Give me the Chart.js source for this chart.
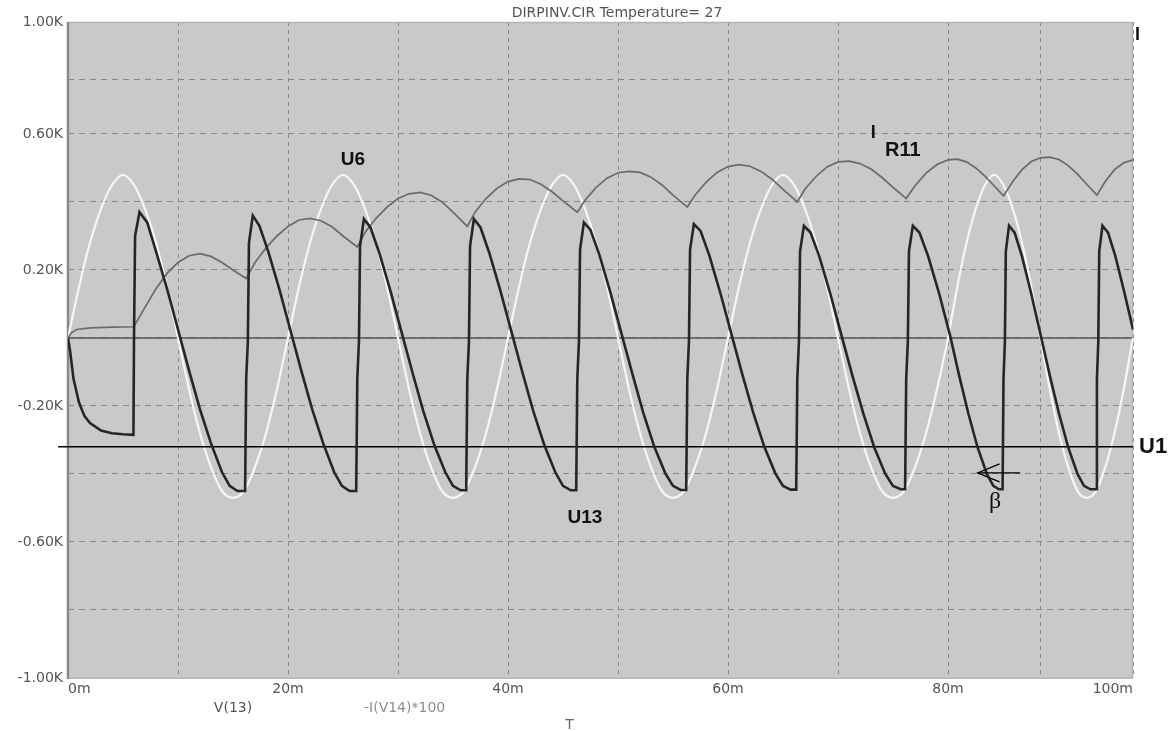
<!DOCTYPE html>
<html><head><meta charset="utf-8">
<script src="https://cdn.jsdelivr.net/npm/chart.js@4.4.1/dist/chart.umd.min.js"></script>
<style>html,body{margin:0;padding:0;background:#fff;}canvas{display:block;}</style>
</head><body>
<canvas id="c" width="1173" height="731"></canvas>
<script>
// ---------- data ----------
const chartTitle = 'DIRPINV.CIR Temperature= 27';
const xTickValues = [0, 20, 40, 60, 80, 100];
const xTickLabels = ['0m', '20m', '40m', '60m', '80m', '100m'];
const yTickValues = [1, 0.6, 0.2, -0.2, -0.6, -1];
const yTickLabels = ['1.00K', '0.60K', '0.20K', '-0.20K', '-0.60K', '-1.00K'];
const traceNames = ['V(13)', '-I(V14)*100'];
const xAxisName = 'T';

// V(13) supply sine (white), time in ms, value in K
const v13Time = [0,1,2,3,4,5,6,7,8,9,10,11,12,13,14,15,16,17,18,19,20,21,22,23,24,25,26,27,28,29,30,31,32,33,34,35,36,37,38,39,40,41,42,43,44,45,46,47,48,49,50,51,52,53,54,55,56,57,58,59,60,61,62,63,64,65,66,67,68,69,70,71,72,73,74,75,76,77,78,79,80,81,82,83,84,85,86,87,88,89,90,91,92,93,94,95,96,97,98,99,100];
const v13Value = [0,0.15,0.28,0.38,0.45,0.48,0.45,0.38,0.28,0.15,0,-0.15,-0.28,-0.38,-0.45,-0.47,-0.45,-0.38,-0.28,-0.15,
  0,0.15,0.28,0.38,0.45,0.48,0.45,0.38,0.28,0.15,0,-0.15,-0.28,-0.38,-0.45,-0.47,-0.45,-0.38,-0.28,-0.15,
  0,0.15,0.28,0.38,0.45,0.48,0.45,0.38,0.28,0.15,0,-0.15,-0.28,-0.38,-0.45,-0.47,-0.45,-0.38,-0.28,-0.15,
  0,0.15,0.28,0.38,0.45,0.48,0.45,0.38,0.28,0.15,0,-0.15,-0.28,-0.38,-0.45,-0.47,-0.45,-0.38,-0.28,-0.15,
  0,0.15,0.28,0.38,0.45,0.48,0.45,0.38,0.28,0.15,0,-0.15,-0.28,-0.38,-0.45,-0.47,-0.45,-0.38,-0.28,-0.15,0];

// I(R11) (medium grey)
const iR11Time = [0,0.3,0.8,2,4,5.95,6.1,7,8,9,10,11,12,13,14,15,16.2,17,18,19,20,21,22,23,24,25,26.3,27,28,29,30,31,32,33,34,35,36.3,37,38,39,40,41,42,43,44,45,46.3,47,48,49,50,51,52,53,54,55,56.3,57,58,59,60,61,62,63,64,65,66.3,67,68,69,70,71,72,73,74,75,76.2,77,78,79,80,81,82,83,84,85,86,87,88,89,90,91,92,93,94,95,96.1,97,98,99,100];
const iR11Value = [0,0.015,0.025,0.03,0.032,0.033,0.04,0.09,0.145,0.19,0.222,0.242,0.248,0.24,0.222,0.2,0.175,0.222,0.265,0.3,0.328,0.347,0.352,0.345,0.327,0.3,0.268,0.31,0.352,0.385,0.41,0.424,0.428,0.42,0.4,0.37,0.328,0.37,0.41,0.44,0.46,0.468,0.466,0.452,0.43,0.403,0.37,0.405,0.442,0.47,0.486,0.49,0.487,0.473,0.45,0.42,0.385,0.42,0.458,0.487,0.504,0.51,0.505,0.49,0.467,0.437,0.40,0.438,0.475,0.503,0.518,0.52,0.513,0.497,0.472,0.443,0.41,0.448,0.485,0.51,0.524,0.526,0.518,0.5,0.476,0.447,0.418,0.46,0.495,0.519,0.53,0.532,0.525,0.507,0.482,0.452,0.42,0.46,0.495,0.515,0.524];

// U13 (black)
const u13Time = [0,0.2,0.5,1,1.5,2,3,4,5,5.95,6.0,6.1,6.5,
  7.2,8,9,10,11,12,13,14,14.7,15.4,16.1,
  16.2,16.35,16.45,16.8,17.4,18.2,19.2,20.2,21.2,22.2,23.2,24.2,24.9,25.6,26.2,
  26.3,26.45,26.55,26.9,27.5,28.3,29.3,30.3,31.3,32.3,33.3,34.3,35,35.7,36.2,
  36.3,36.45,36.55,36.9,37.5,38.3,39.3,40.3,41.3,42.3,43.3,44.3,45,45.7,46.2,
  46.3,46.45,46.55,46.9,47.5,48.3,49.3,50.3,51.3,52.3,53.3,54.3,55,55.7,56.2,
  56.3,56.45,56.55,56.9,57.5,58.3,59.3,60.3,61.3,62.3,63.3,64.3,65,65.7,66.2,
  66.3,66.45,66.55,66.9,67.5,68.3,69.3,70.3,71.3,72.3,73.3,74.3,75,75.7,76.1,
  76.2,76.35,76.45,76.8,77.4,78.2,79.2,80.2,81.2,82.2,83.2,84.2,84.9,85.5,85.9,
  86.0,86.15,86.25,86.6,87.2,88,89,90,91,92,93,94,94.7,95.4,96.0,
  96.1,96.25,96.35,96.7,97.3,98.1,99.1,100];
const u13Value = [0,-0.04,-0.12,-0.19,-0.23,-0.25,-0.272,-0.28,-0.283,-0.285,0.0,0.3,0.37,
  0.34,0.255,0.145,0.025,-0.095,-0.21,-0.31,-0.395,-0.435,-0.45,-0.45,
  -0.12,-0.01,0.28,0.36,0.33,0.255,0.145,0.025,-0.095,-0.21,-0.31,-0.395,-0.435,-0.45,-0.45,
  -0.12,-0.01,0.27,0.35,0.325,0.25,0.14,0.02,-0.1,-0.215,-0.315,-0.395,-0.435,-0.448,-0.448,
  -0.12,-0.01,0.27,0.35,0.325,0.25,0.14,0.02,-0.1,-0.215,-0.315,-0.395,-0.435,-0.448,-0.448,
  -0.12,-0.01,0.26,0.34,0.318,0.245,0.135,0.015,-0.105,-0.22,-0.32,-0.398,-0.435,-0.447,-0.447,
  -0.12,-0.01,0.26,0.335,0.315,0.243,0.133,0.013,-0.107,-0.22,-0.32,-0.398,-0.435,-0.446,-0.446,
  -0.12,-0.01,0.255,0.33,0.31,0.24,0.13,0.01,-0.11,-0.222,-0.322,-0.4,-0.435,-0.445,-0.445,
  -0.12,-0.01,0.255,0.33,0.31,0.24,0.13,0.01,-0.11,-0.222,-0.322,-0.4,-0.435,-0.445,-0.445,
  -0.12,-0.01,0.255,0.33,0.31,0.24,0.13,0.01,-0.11,-0.222,-0.322,-0.4,-0.435,-0.445,-0.445,
  -0.12,-0.01,0.255,0.33,0.31,0.24,0.13,0.025];

// -I(V14)*100 trace (flat at zero) and the U1 threshold line
const zeroTime = [0, 100];
const zeroValue = [0, 0];
const u1Time = [-0.9, 100];
const u1Value = [-0.32, -0.32];

// ---------- axis warp of the scanned plot (piecewise linear) ----------
const axisWarp = {
  x: { values: [0, 80, 100], fractions: [0, 0.8263, 1] },
  y: { values: [-1, 0.6, 0.8, 1], fractions: [0, 0.8293, 0.9116, 1] }
};
function interp(xs, ys, v) {
  let i = 0;
  if (v >= xs[xs.length - 1]) i = xs.length - 2;
  else if (v > xs[0]) { while (v > xs[i + 1]) i++; }
  return ys[i] + (v - xs[i]) * (ys[i + 1] - ys[i]) / (xs[i + 1] - xs[i]);
}
class WarpedScale extends Chart.LinearScale {
  getPixelForValue(value) {
    if (value === null || value === undefined || isNaN(value)) return NaN;
    const w = axisWarp[this.axis];
    return this.getPixelForDecimal(interp(w.values, w.fractions, value));
  }
  getValueForPixel(pixel) {
    const w = axisWarp[this.axis];
    return interp(w.fractions, w.values, this.getDecimalForPixel(pixel));
  }
}
WarpedScale.id = 'warped';
WarpedScale.defaults = Chart.LinearScale.defaults;
Chart.register(WarpedScale);

const pts = (ts, vs) => ts.map((t, i) => ({ x: t, y: vs[i] }));

const annotations = [
  { text: 'U6', t: 25.9, v: 0.524, font: 'bold 19px "Liberation Sans"', align: 'center' },
  { text: 'I', t: 73.2, v: 0.603, font: 'bold 18px "Liberation Sans"', align: 'center' },
  { text: 'R11', t: 75.9, v: 0.55, font: 'bold 20px "Liberation Sans"', align: 'center' },
  { text: 'I', t: 100.5, v: 0.955, font: 'bold 18px "Liberation Sans"', align: 'center' },
  { text: 'U13', t: 47.0, v: -0.53, font: 'bold 19px "Liberation Sans"', align: 'center' },
  { text: 'U1', t: 100.65, v: -0.32, font: 'bold 22px "Liberation Sans"', align: 'left' },
  { text: 'β', t: 85.1, v: -0.482, font: '24px "Liberation Serif"', align: 'center' }
];
const arrowTip = { t: 83.2, v: -0.397 };
const arrowTail = { t: 87.8, v: -0.397 };

const decor = {
  id: 'decor',
  beforeDraw(chart) {
    const { ctx, chartArea: a } = chart;
    ctx.save();
    ctx.fillStyle = '#c9c9c9';
    ctx.fillRect(a.left, a.top, a.right - a.left, a.bottom - a.top);
    ctx.restore();
  },
  beforeDatasetsDraw(chart) {
    const { ctx, chartArea: a } = chart;
    ctx.save();
    ctx.lineWidth = 1.5; ctx.strokeStyle = '#b4b4b4';
    ctx.beginPath(); ctx.moveTo(a.left, a.top + 0.5); ctx.lineTo(a.right, a.top + 0.5); ctx.stroke();
    ctx.beginPath(); ctx.moveTo(a.right - 0.5, a.top); ctx.lineTo(a.right - 0.5, a.bottom); ctx.stroke();
    ctx.lineWidth = 2; ctx.strokeStyle = '#bcbcbc';
    ctx.beginPath(); ctx.moveTo(a.left, a.bottom); ctx.lineTo(a.right, a.bottom); ctx.stroke();
    ctx.lineWidth = 2.5; ctx.strokeStyle = '#8a8a8a';
    ctx.beginPath(); ctx.moveTo(a.left, a.top); ctx.lineTo(a.left, a.bottom + 1); ctx.stroke();
    ctx.restore();
  },
  afterDraw(chart) {
    const { ctx, chartArea: a } = chart;
    const xs = chart.scales.x, ys = chart.scales.y;
    ctx.save();
    ctx.textBaseline = 'middle';
    // title
    ctx.font = '14px "DejaVu Sans"'; ctx.fillStyle = '#555'; ctx.textAlign = 'center';
    ctx.fillText(chartTitle, 617, 13);
    // trace names and axis name under the x axis
    ctx.font = '14px "DejaVu Sans"';
    ctx.fillStyle = '#555';
    ctx.fillText(traceNames[0], xs.getPixelForValue(15.0), a.bottom + 30);
    ctx.fillStyle = '#8e8e8e';
    ctx.fillText(traceNames[1], xs.getPixelForValue(30.6), a.bottom + 30);
    ctx.fillStyle = '#666';
    ctx.fillText(xAxisName, xs.getPixelForValue(45.6), a.bottom + 47);
    // annotations
    ctx.fillStyle = '#111';
    for (const an of annotations) {
      ctx.font = an.font; ctx.textAlign = an.align;
      ctx.fillText(an.text, xs.getPixelForValue(an.t), ys.getPixelForValue(an.v));
    }
    // arrow
    const tx = xs.getPixelForValue(arrowTip.t), ty = ys.getPixelForValue(arrowTip.v);
    const ex = xs.getPixelForValue(arrowTail.t);
    ctx.strokeStyle = '#000'; ctx.lineWidth = 1.3;
    ctx.beginPath(); ctx.moveTo(ex, ty); ctx.lineTo(tx, ty); ctx.stroke();
    ctx.beginPath(); ctx.moveTo(tx + 22, ty - 9); ctx.lineTo(tx, ty); ctx.lineTo(tx + 22, ty + 9); ctx.stroke();
    ctx.restore();
  }
};

new Chart(document.getElementById('c'), {
  type: 'line',
  data: {
    datasets: [
      { label: '-I(V14)*100', data: pts(zeroTime, zeroValue), borderColor: '#555', borderWidth: 1.6, order: 3, tension: 0 },
      { label: 'V(13)', data: pts(v13Time, v13Value), borderColor: '#f6f6f6', borderWidth: 2.2, order: 2, cubicInterpolationMode: 'monotone' },
      { label: 'I(R11)', data: pts(iR11Time, iR11Value), borderColor: '#6a6a6a', borderWidth: 1.7, order: 1, tension: 0 },
      { label: 'U13', data: pts(u13Time, u13Value), borderColor: '#262626', borderWidth: 2.6, order: 0, tension: 0 },
      { label: 'U1', data: pts(u1Time, u1Value), borderColor: '#000', borderWidth: 1.5, order: 0, tension: 0, clip: false }
    ]
  },
  options: {
    responsive: false,
    animation: false,
    devicePixelRatio: 1,
    events: [],
    layout: { padding: { left: 0, right: 40, top: 22, bottom: 0 } },
    elements: { point: { radius: 0 } },
    plugins: { legend: { display: false }, tooltip: { enabled: false }, title: { display: false } },
    scales: {
      x: {
        type: 'warped', min: 0, max: 100,
        afterFit(s) { s.height = 53; },
        afterBuildTicks(s) { s.ticks = [0,10,20,30,40,50,60,70,80,90,100].map(v => ({ value: v })); },
        ticks: {
          autoSkip: false, maxRotation: 0, padding: 3, align: 'inner',
          color: '#555', font: { family: 'DejaVu Sans', size: 14 },
          callback(v) { const i = xTickValues.indexOf(v); return i >= 0 ? xTickLabels[i] : ''; }
        },
        grid: { color: '#888', lineWidth: 1, drawTicks: false },
        border: { display: false, dash: [4, 4] }
      },
      y: {
        type: 'warped', min: -1, max: 1,
        afterFit(s) { s.width = 68; },
        afterBuildTicks(s) { s.ticks = [-1,-0.8,-0.6,-0.4,-0.2,0,0.2,0.4,0.6,0.8,1].map(v => ({ value: v })); },
        ticks: {
          autoSkip: false, padding: 5,
          color: '#555', font: { family: 'DejaVu Sans', size: 14 },
          callback(v) { const i = yTickValues.findIndex(t => Math.abs(t - v) < 1e-6); return i >= 0 ? yTickLabels[i] : ''; }
        },
        grid: { color: '#888', lineWidth: 1, drawTicks: false },
        border: { display: false, dash: [6, 5] }
      }
    }
  },
  plugins: [decor]
});
</script>
</body></html>
